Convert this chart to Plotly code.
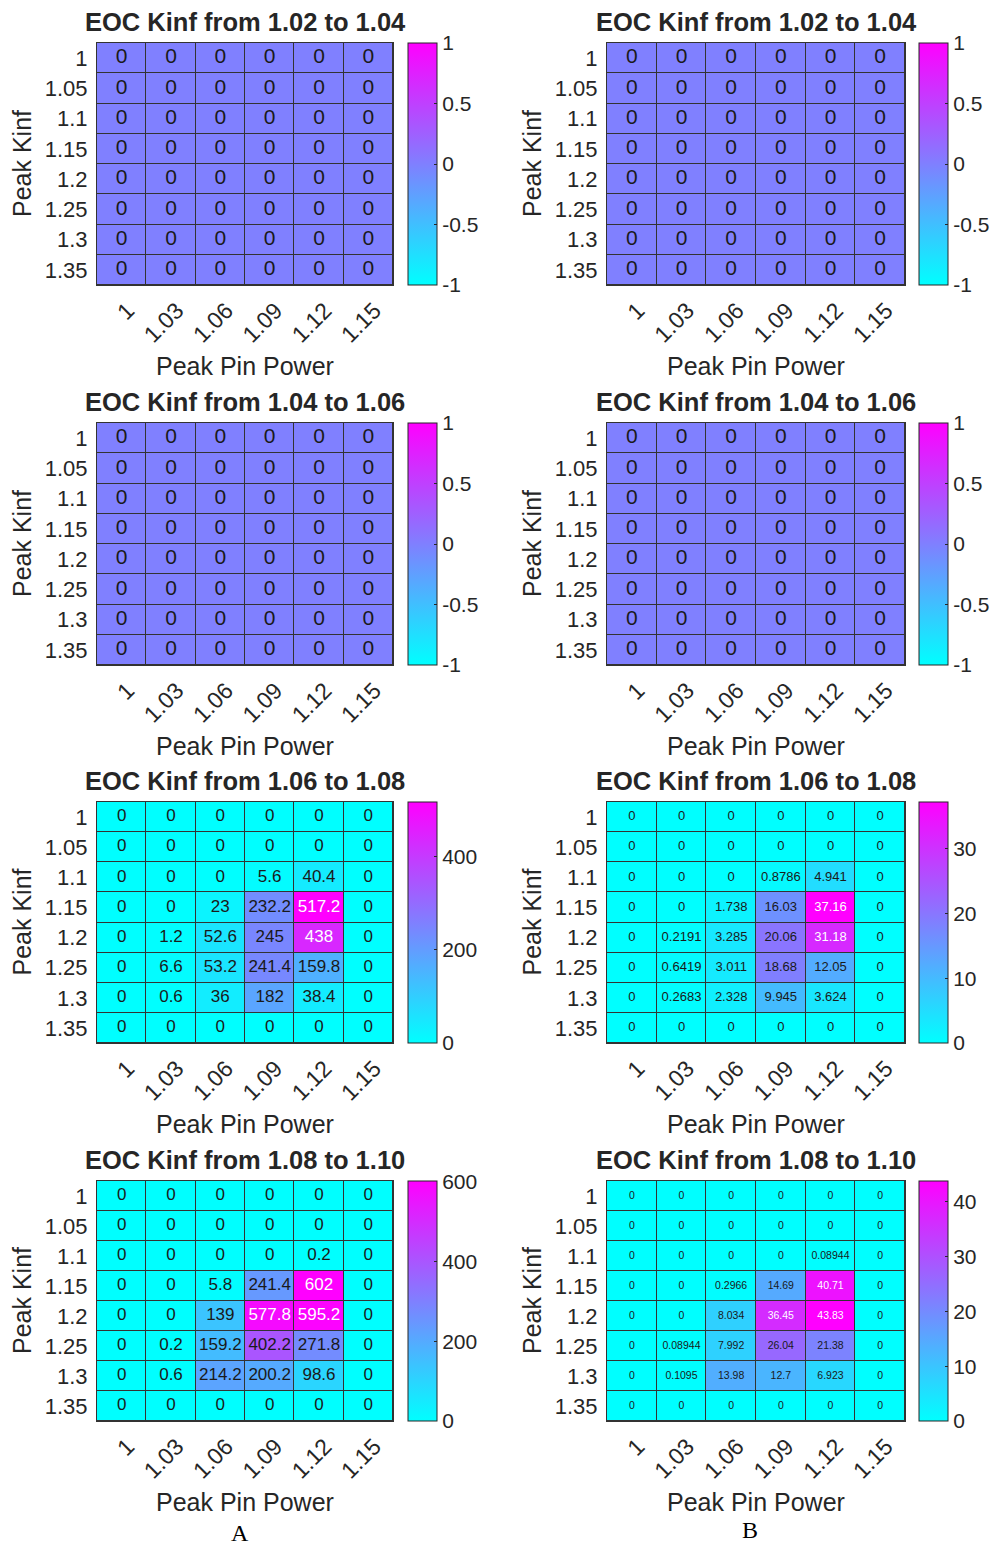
import plotly.graph_objects as go

# ---------------- data ----------------
x_labels = ["1", "1.03", "1.06", "1.09", "1.12", "1.15"]          # Peak Pin Power
y_labels = ["1", "1.05", "1.1", "1.15", "1.2", "1.25", "1.3", "1.35"]  # Peak Kinf

titles = ["EOC Kinf from 1.02 to 1.04", "EOC Kinf from 1.04 to 1.06",
          "EOC Kinf from 1.06 to 1.08", "EOC Kinf from 1.08 to 1.10"]

zeros = [[0] * 6 for _ in range(8)]

A_102_104 = zeros
A_104_106 = zeros
A_106_108 = [
    [0, 0, 0, 0, 0, 0],
    [0, 0, 0, 0, 0, 0],
    [0, 0, 0, 5.6, 40.4, 0],
    [0, 0, 23, 232.2, 517.2, 0],
    [0, 1.2, 52.6, 245, 438, 0],
    [0, 6.6, 53.2, 241.4, 159.8, 0],
    [0, 0.6, 36, 182, 38.4, 0],
    [0, 0, 0, 0, 0, 0],
]
A_108_110 = [
    [0, 0, 0, 0, 0, 0],
    [0, 0, 0, 0, 0, 0],
    [0, 0, 0, 0, 0.2, 0],
    [0, 0, 5.8, 241.4, 602, 0],
    [0, 0, 139, 577.8, 595.2, 0],
    [0, 0.2, 159.2, 402.2, 271.8, 0],
    [0, 0.6, 214.2, 200.2, 98.6, 0],
    [0, 0, 0, 0, 0, 0],
]
B_102_104 = zeros
B_104_106 = zeros
B_106_108 = [
    [0, 0, 0, 0, 0, 0],
    [0, 0, 0, 0, 0, 0],
    [0, 0, 0, 0.8786, 4.941, 0],
    [0, 0, 1.738, 16.03, 37.16, 0],
    [0, 0.2191, 3.285, 20.06, 31.18, 0],
    [0, 0.6419, 3.011, 18.68, 12.05, 0],
    [0, 0.2683, 2.328, 9.945, 3.624, 0],
    [0, 0, 0, 0, 0, 0],
]
B_108_110 = [
    [0, 0, 0, 0, 0, 0],
    [0, 0, 0, 0, 0, 0],
    [0, 0, 0, 0, 0.08944, 0],
    [0, 0, 0.2966, 14.69, 40.71, 0],
    [0, 0, 8.034, 36.45, 43.83, 0],
    [0, 0.08944, 7.992, 26.04, 21.38, 0],
    [0, 0.1095, 13.98, 12.7, 6.923, 0],
    [0, 0, 0, 0, 0, 0],
]

# colorbar ticks per panel
cb_ticks_zero = [-1, -0.5, 0, 0.5, 1]
cb_ticks_A3 = [0, 200, 400]
cb_ticks_A4 = [0, 200, 400, 600]
cb_ticks_B3 = [0, 10, 20, 30]
cb_ticks_B4 = [0, 10, 20, 30, 40]

panels = [
    # (data, row, col, ticks, cell font size)
    (A_102_104, 0, 0, cb_ticks_zero, 21),
    (B_102_104, 0, 1, cb_ticks_zero, 21),
    (A_104_106, 1, 0, cb_ticks_zero, 21),
    (B_104_106, 1, 1, cb_ticks_zero, 21),
    (A_106_108, 2, 0, cb_ticks_A3, 17),
    (B_106_108, 2, 1, cb_ticks_B3, 13),
    (A_108_110, 3, 0, cb_ticks_A4, 17),
    (B_108_110, 3, 1, cb_ticks_B4, 10.5),
]

# ---------------- layout geometry (px) ----------------
W, H = 995, 1548
col_x = [(97, 393), (607, 905)]
cb_x = [408, 919]
cb_w = 29
row_y = [(43, 285), (423, 665), (802, 1043), (1181, 1421)]

FONT = "Liberation Sans, Arial, Helvetica, sans-serif"
TXT = "#262626"
cool = [[0, "#00ffff"], [1, "#ff00ff"]]


def fx(px):
    return px / W


def fy(py):
    return 1 - py / H


fig = go.Figure()
layout = dict(
    width=W, height=H, margin=dict(l=0, r=0, t=0, b=0),
    paper_bgcolor="white", plot_bgcolor="#333333",
    showlegend=False, font=dict(family=FONT, color=TXT),
)
annotations = []

for i, (data, r, c, ticks, fs) in enumerate(panels):
    n = i + 1
    xa = "x" if n == 1 else f"x{n}"
    ya = "y" if n == 1 else f"y{n}"
    flat = [v for row in data for v in row]
    vmax = max(flat)
    vmin = min(flat)
    if vmax == vmin:
        zmin, zmax = vmin - 1, vmax + 1
    else:
        zmin, zmax = vmin, vmax
    x0, x1 = col_x[c]
    y0, y1 = row_y[r]

    fig.add_trace(go.Heatmap(
        z=data, x=x_labels, y=y_labels, xaxis=xa, yaxis=ya,
        colorscale=cool, zmin=zmin, zmax=zmax, xgap=1, ygap=1,
        hoverinfo="skip",
        colorbar=dict(
            x=fx(cb_x[c]), xanchor="left", xpad=0, ypad=0,
            y=fy((y0 + y1) / 2), yanchor="middle",
            len=(y1 - y0), lenmode="pixels",
            thickness=cb_w, thicknessmode="pixels",
            outlinewidth=1, outlinecolor=TXT,
            tickmode="array", tickvals=ticks,
            ticktext=[f"{t:g}" for t in ticks],
            ticks="inside", ticklen=3, tickcolor=TXT,
            tickfont=dict(size=21, family=FONT, color=TXT),
        ),
    ))

    # cell labels
    xs, ys, texts, colors = [], [], [], []
    for ri, row in enumerate(data):
        for ci, v in enumerate(row):
            xs.append(x_labels[ci])
            ys.append(y_labels[ri])
            texts.append(f"{v:.4g}")
            frac = (v - zmin) / (zmax - zmin)
            colors.append("white" if frac > 0.75 else "#1a1a1a")
    fig.add_trace(go.Scatter(
        x=xs, y=ys, mode="text", text=texts, xaxis=xa, yaxis=ya,
        textfont=dict(size=fs, color=colors, family=FONT),
        hoverinfo="skip",
    ))

    layout["xaxis" if n == 1 else f"xaxis{n}"] = dict(
        domain=[fx(x0), fx(x1)], anchor=ya, type="category",
        tickangle=-45, tickfont=dict(size=23, family=FONT, color=TXT),
        ticks="outside", ticklen=2, tickcolor="rgba(0,0,0,0)",
        ticklabelshift=6,
        showline=True, mirror=True, linecolor="#333333", linewidth=1,
        showgrid=False, zeroline=False, fixedrange=True,
    )
    layout["yaxis" if n == 1 else f"yaxis{n}"] = dict(
        domain=[fy(y1), fy(y0)], anchor=xa, type="category",
        autorange="reversed",
        tickfont=dict(size=22, family=FONT, color=TXT),
        ticks="outside", ticklen=4, tickcolor="rgba(0,0,0,0)",
        showline=True, mirror=True, linecolor="#333333", linewidth=1,
        showgrid=False, zeroline=False, fixedrange=True,
    )

    cx = (x0 + x1) / 2
    annotations.append(dict(
        text=f"<b>{titles[r]}</b>", x=fx(cx), y=fy(y0 - 21),
        xref="paper", yref="paper", xanchor="center", yanchor="middle",
        showarrow=False, font=dict(size=25.5, family=FONT, color=TXT),
    ))
    annotations.append(dict(
        text="Peak Pin Power", x=fx(cx), y=fy(y1 + 81),
        xref="paper", yref="paper", xanchor="center", yanchor="middle",
        showarrow=False, font=dict(size=25, family=FONT, color=TXT),
    ))
    annotations.append(dict(
        text="Peak Kinf", x=fx(x0 - 75), y=fy((y0 + y1) / 2),
        xref="paper", yref="paper", xanchor="center", yanchor="middle",
        textangle=-90, showarrow=False,
        font=dict(size=25, family=FONT, color=TXT),
    ))

annotations.append(dict(
    text="A", x=fx(240), y=fy(1533), xref="paper", yref="paper",
    xanchor="center", yanchor="middle", showarrow=False,
    font=dict(size=24, family="Liberation Serif, Times New Roman, serif", color="black"),
))
annotations.append(dict(
    text="B", x=fx(750), y=fy(1530), xref="paper", yref="paper",
    xanchor="center", yanchor="middle", showarrow=False,
    font=dict(size=24, family="Liberation Serif, Times New Roman, serif", color="black"),
))

layout["annotations"] = annotations
fig.update_layout(**layout)
fig.write_html(
    "out.html",
    config={"displayModeBar": False},
    post_script="document.body.style.margin='0';document.body.style.overflow='hidden';",
)
